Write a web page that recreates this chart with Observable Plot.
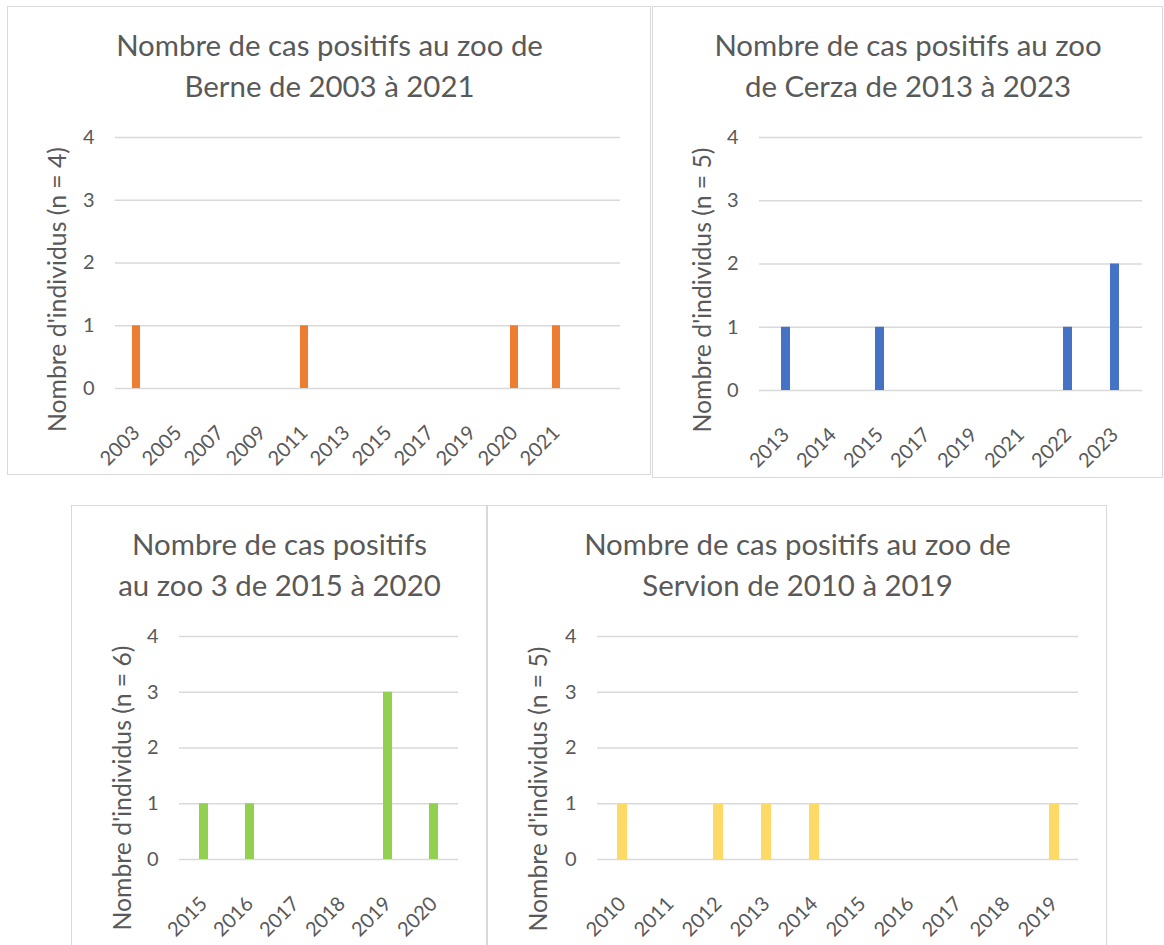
<!DOCTYPE html>
<html><head><meta charset="utf-8">
<script src="https://cdn.jsdelivr.net/npm/d3@7"></script>
<script src="https://cdn.jsdelivr.net/npm/@observablehq/plot@0.6"></script>
<style>
html,body{margin:0;padding:0;background:#fff;overflow:hidden;}
#root{position:relative;width:1164px;height:945px;overflow:hidden;background:#fff;}
#root svg{position:absolute;outline:1px solid #d9d9d9;outline-offset:-1px;}
</style></head><body><div id="root"></div>
<script>
// ---- data ----
const bernYears = ["2003","2005","2007","2009","2011","2013","2015","2017","2019","2020","2021"," "];
const bernCounts = [1,0,0,0,1,0,0,0,0,1,1];
const cerzaYears = ["2013","2014","2015","2017","2019","2021","2022","2023"];
const cerzaCounts = [1,0,1,0,0,0,1,2];
const zoo3Years = ["2015","2016","2017","2018","2019","2020"];
const zoo3Counts = [1,1,0,0,3,1];
const servionYears = ["2010","2011","2012","2013","2014","2015","2016","2017","2018","2019"];
const servionCounts = [1,0,1,1,1,0,0,0,0,1];
const titles = [
  "Nombre de cas positifs au zoo de\nBerne de 2003 à 2021",
  "Nombre de cas positifs au zoo\nde Cerza de 2013 à 2023",
  "Nombre de cas positifs\nau zoo 3 de 2015 à 2020",
  "Nombre de cas positifs au zoo de\nServion de 2010 à 2019"
];
const yLabels = ["Nombre d'individus (n = 4)","Nombre d'individus (n = 5)","Nombre d'individus (n = 6)","Nombre d'individus (n = 5)"];
const yTicks = [0,1,2,3,4];
const colors = ["#ED7D31","#4472C4","#92D050","#FFD966"];

// ---- layout ----
const FONT = "Lato";
const ctx = document.createElement("canvas").getContext("2d");
function fit(text, target){ ctx.font = `100px ${FONT}`; return 100*target/ctx.measureText(text).width; }
const titleSize = fit("Nombre de cas positifs au zoo de", 427);
const labelSize = fit("Nombre d'individus (n = 4)", 285);
const tickSize = 20;

const panels = [
  {years:bernYears, counts:bernCounts, left:7, top:6, width:644, height:469, mL:108, mR:31, mT:131, mB:87, lx:-57, ly:26.5},
  {years:cerzaYears, counts:cerzaCounts, left:652, top:6, width:511, height:472, mL:107, mR:21, mT:131, mB:88, lx:-56.5, ly:26},
  {years:zoo3Years, counts:zoo3Counts, left:71, top:505, width:416, height:445, mL:108, mR:29, mT:131, mB:91, lx:-56.5, ly:40},
  {years:servionYears, counts:servionCounts, left:487, top:505, width:620, height:445, mL:110, mR:29, mT:131, mB:91, lx:-58, ly:41}
];

const root = document.getElementById("root");
panels.forEach((p, k) => {
  const data = p.counts.map((c, i) => ({year: p.years[i], count: c}));
  const plotCenter = p.mL + (p.width - p.mL - p.mR) / 2;
  const panelCenter = p.width / 2;
  const chart = Plot.plot({
    width: p.width, height: p.height,
    marginLeft: p.mL, marginRight: p.mR, marginTop: p.mT, marginBottom: p.mB,
    style: {fontFamily: FONT, color: "#595959", background: "white", overflow: "visible"},
    x: {type: "band", domain: p.years, paddingInner: 0.8, paddingOuter: 0.4, axis: null},
    y: {domain: [0, 4], axis: null},
    marks: [
      Plot.gridY(yTicks, {stroke: "#d9d9d9", strokeOpacity: 1, strokeWidth: 1.3}),
      Plot.barY(data, {x: "year", y: "count", fill: colors[k]}),
      Plot.axisY(yTicks, {tickSize: 0, tickPadding: 21, fontSize: tickSize, label: null, tickFormat: d => String(d)}),
      Plot.axisX({tickRotate: -45, tickSize: 0, tickPadding: 41, fontSize: tickSize, label: null}),
      Plot.text([titles[k]], {frameAnchor: "top", text: d => d, lineAnchor: "bottom", lineHeight: 40.5 / titleSize,
        fontSize: titleSize, dx: panelCenter - plotCenter, dy: -41}),
      Plot.text([yLabels[k]], {frameAnchor: "left", text: d => d, textAnchor: "middle", rotate: -90,
        fontSize: labelSize, dx: p.lx, dy: p.ly})
    ]
  });
  chart.style.left = p.left + "px";
  chart.style.top = p.top + "px";
  root.appendChild(chart);
});
</script></body></html>
